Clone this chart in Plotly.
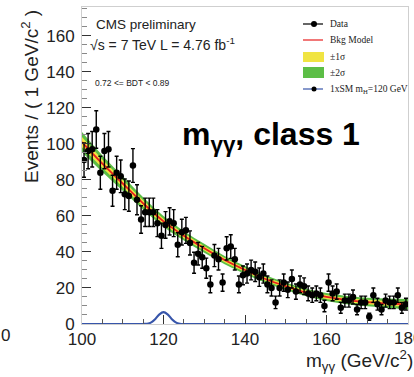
import numpy as np
import plotly.graph_objects as go

# ---------------- data ----------------
bin_centers = [100.5 + i for i in range(80)]
data_counts = [91, 96, 97, 108, 84, 96, 97, 74, 84, 82,
               72, 71, 88, 69, 58, 62, 62, 62, 56, 49,
               55, 57, 56, 44, 51, 52, 45, 34, 39, 37,
               31, 22, 38, 36, 23, 42, 43, 36, 22, 27,
               28, 30, 29, 26, 28, 22, 20, 12, 20, 23,
               19, 25, 18, 22, 21, 17, 16, 17, 16, 10,
               23, 17, 18, 9, 13, 13, 15, 8, 12, 12,
               4, 16, 11, 8, 13, 12, 12, 16, 9, 11]

bkg_mass = [100, 105, 110, 115, 120, 125, 130, 135, 140, 145, 150, 155, 160, 165, 170, 175, 180]
bkg_model = [101, 89, 78, 67, 57, 49, 42, 35.5, 30, 25, 21, 17.5, 15, 13.3, 12.2, 11.5, 11]
sigma1 = [2.8, 2.3, 2.0, 1.7, 1.5, 1.35, 1.25, 1.15, 1.1, 1.05, 1.05, 1.05, 1.1, 1.15, 1.2, 1.3, 1.45]
sigma2 = [5.6, 4.6, 4.0, 3.4, 3.0, 2.7, 2.5, 2.3, 2.2, 2.1, 2.1, 2.1, 2.2, 2.3, 2.4, 2.6, 2.9]

sig_mass = [100, 115, 116, 117, 118, 119, 120, 121, 122, 123, 124, 125, 180]
sig_vals = [0, 0, 0.15, 0.9, 2.8, 5.4, 6.6, 5.4, 2.8, 0.9, 0.15, 0, 0]

x_ticks = [100, 120, 140, 160, 180]
y_ticks = [0, 20, 40, 60, 80, 100, 120, 140, 160]

# ---------------- figure ----------------
W, H = 414, 377
def px(x):
    return x / W
def py(y):
    return (H - y) / H

bkg = np.array(bkg_model)
s1 = np.array(sigma1)
s2 = np.array(sigma2)

GREEN = "rgb(92,190,70)"
YELLOW = "rgb(240,228,66)"
RED = "rgb(232,30,30)"
BLUE = "rgb(55,85,170)"

fig = go.Figure()
# +-2 sigma band
fig.add_trace(go.Scatter(x=bkg_mass, y=bkg + s2, mode="lines", line=dict(width=0, shape="spline"),
                         showlegend=False, hoverinfo="skip"))
fig.add_trace(go.Scatter(x=bkg_mass, y=bkg - s2, mode="lines", line=dict(width=0, shape="spline"),
                         fill="tonexty", fillcolor=GREEN, showlegend=False, hoverinfo="skip"))
# +-1 sigma band
fig.add_trace(go.Scatter(x=bkg_mass, y=bkg + s1, mode="lines", line=dict(width=0, shape="spline"),
                         showlegend=False, hoverinfo="skip"))
fig.add_trace(go.Scatter(x=bkg_mass, y=bkg - s1, mode="lines", line=dict(width=0, shape="spline"),
                         fill="tonexty", fillcolor=YELLOW, showlegend=False, hoverinfo="skip"))
# background model
fig.add_trace(go.Scatter(x=bkg_mass, y=bkg_model, mode="lines",
                         line=dict(color=RED, width=1.8, shape="spline"), showlegend=False))
# data
fig.add_trace(go.Scatter(x=bin_centers, y=data_counts, mode="markers",
                         marker=dict(color="black", size=6.5),
                         error_y=dict(type="data", array=np.sqrt(data_counts), color="black",
                                      thickness=1.4, width=2),
                         error_x=dict(type="constant", value=0.5, color="black", thickness=1, width=0),
                         showlegend=False))
# signal
fig.add_trace(go.Scatter(x=sig_mass, y=sig_vals, mode="lines",
                         line=dict(color=BLUE, width=2.2, shape="spline", smoothing=0.8),
                         showlegend=False, cliponaxis=False))

axis_font = dict(family="Liberation Sans, Arial, sans-serif", size=17, color="#222")
fig.update_xaxes(range=[100, 180], domain=[px(82), px(408)], tickvals=x_ticks,
                 ticks="inside", ticklen=9, tickcolor="#333", tickwidth=1,
                 minor=dict(ticks="inside", ticklen=5, dtick=5, tickcolor="#555", tickwidth=1),
                 showline=True, linecolor="#cfcfcf", linewidth=1, mirror=True,
                 showgrid=False, zeroline=False, tickfont=axis_font, automargin=False)
fig.update_yaxes(range=[0, 176], domain=[py(324), py(7)], tickvals=y_ticks,
                 ticks="inside", ticklen=9, tickcolor="#333", tickwidth=1,
                 minor=dict(ticks="inside", ticklen=5, dtick=5, tickcolor="#888", tickwidth=1),
                 showline=True, linecolor="#cfcfcf", linewidth=1, mirror=True,
                 showgrid=False, zeroline=False, tickfont=axis_font, ticklabelstandoff=3,
                 automargin=False)

ann = []
def add_text(x, y, text, font, xanchor="center", yanchor="middle", **kw):
    ann.append(dict(x=px(x), y=py(y), xref="paper", yref="paper", text=text, showarrow=False,
                    xanchor=xanchor, yanchor=yanchor, font=font, **kw))

sans = "Liberation Sans, Arial, sans-serif"
# axis titles
add_text(30, 97, "Events / ( 1 GeV/c<sup>2</sup> )", dict(family=sans, size=19, color="#222"), textangle=-90)
add_text(415, 360, "m<sub>γγ</sub> (GeV/c<sup>2</sup>)", dict(family=sans, size=19, color="#222"),
         xanchor="right")
# cut-off last x label and stray label of neighbouring panel
add_text(408, 338, "180", axis_font)
add_text(5, 335, "0", axis_font)
# CMS texts
add_text(94, 25, "CMS preliminary", dict(family=sans, size=13.5, color="#222"), xanchor="left")
add_text(88, 44, "√s = 7 TeV L = 4.76 fb<sup>-1</sup>", dict(family=sans, size=14, color="#222"),
         xanchor="left")
add_text(93, 83, "0.72 &lt;= BDT &lt; 0.89", dict(family=sans, size=8.5, color="#222"), xanchor="left")
# big label
add_text(180, 136, "<b>m<sub>γγ</sub>, class 1</b>", dict(family=sans, size=32, color="black"),
         xanchor="left")

# legend (manual)
shapes = []
leg_font = dict(family="Liberation Serif, Times New Roman, serif", size=9.5, color="#222")
leg_items = [("Data", 24), ("Bkg Model", 40), ("±1σ", 57), ("±2σ", 73), ("1xSM m<sub>H</sub>=120 GeV", 89)]
for text, yy in leg_items:
    add_text(328, yy, text, leg_font, xanchor="left")
shapes.append(dict(type="line", xref="paper", yref="paper", x0=px(303), x1=px(323), y0=py(24), y1=py(24),
                   line=dict(color="black", width=1.2)))
shapes.append(dict(type="circle", xref="paper", yref="paper", x0=px(311), x1=px(317), y0=py(27), y1=py(21),
                   fillcolor="black", line=dict(color="black", width=0)))
shapes.append(dict(type="line", xref="paper", yref="paper", x0=px(303), x1=px(323), y0=py(40), y1=py(40),
                   line=dict(color=RED, width=1.2)))
shapes.append(dict(type="rect", xref="paper", yref="paper", x0=px(303), x1=px(324), y0=py(62), y1=py(52),
                   fillcolor=YELLOW, line=dict(width=0)))
shapes.append(dict(type="rect", xref="paper", yref="paper", x0=px(303), x1=px(324), y0=py(78), y1=py(67),
                   fillcolor=GREEN, line=dict(width=0)))
shapes.append(dict(type="line", xref="paper", yref="paper", x0=px(303), x1=px(323), y0=py(89), y1=py(89),
                   line=dict(color=BLUE, width=1.2)))
shapes.append(dict(type="circle", xref="paper", yref="paper", x0=px(311.5), x1=px(316.5), y0=py(91.5), y1=py(86.5),
                   fillcolor="black", line=dict(color="black", width=0)))

fig.update_layout(width=W, height=H, margin=dict(l=0, r=0, t=0, b=0),
                  paper_bgcolor="white", plot_bgcolor="white",
                  annotations=ann, shapes=shapes, showlegend=False)

fig.write_html("out.html")
